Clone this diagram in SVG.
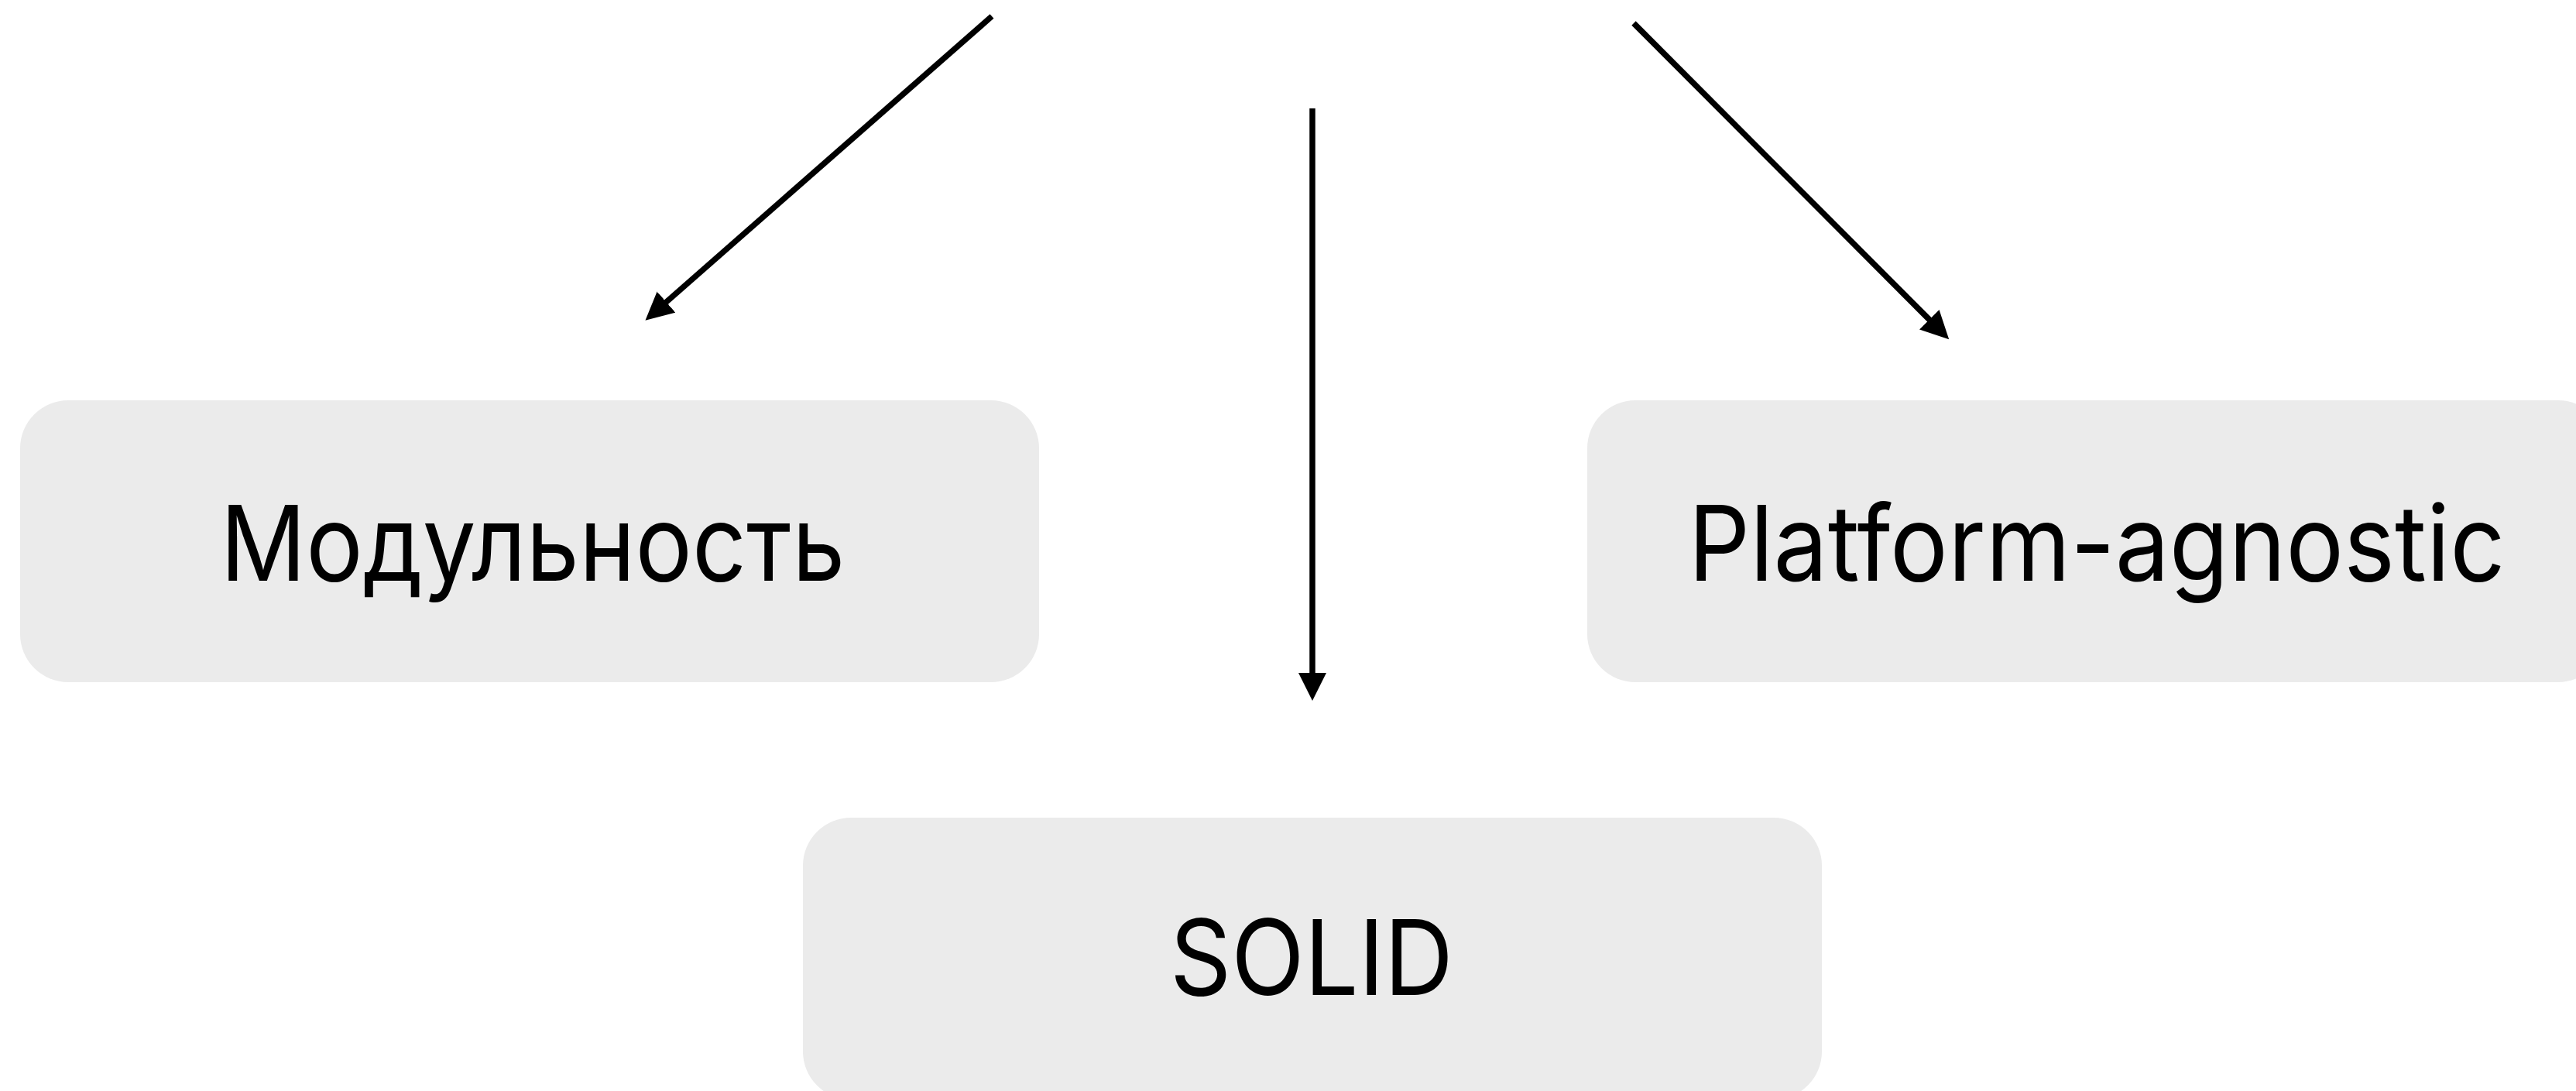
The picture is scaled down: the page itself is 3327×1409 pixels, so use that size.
<svg xmlns="http://www.w3.org/2000/svg" width="3327" height="1409" viewBox="0 0 3327 1409">
<style>
.box{fill:#ebebeb}
.lbl{font-family:Inter,"Liberation Sans",sans-serif;font-size:135px;fill:#000;text-anchor:middle}
.edge{stroke:#000;stroke-width:7.5;fill:none;marker-end:url(#ah)}
</style>
<defs>
<marker id="ah" markerUnits="userSpaceOnUse" markerWidth="40" markerHeight="40" refX="6" refY="18" orient="auto">
<path d="M0,0 L36,18 L0,36 Z" fill="#000"/>
</marker>
</defs>
<rect width="3327" height="1409" fill="#fff"/>
<g id="connectors">
<line class="edge" x1="1281" y1="21" x2="856" y2="394"/>
<line class="edge" x1="1695" y1="140" x2="1695" y2="875"/>
<line class="edge" x1="2110" y1="30" x2="2496" y2="417"/>
</g>
<g id="node-modularity">
<rect class="box" x="26" y="517" width="1316" height="364" rx="62"/>
<text class="lbl" x="688" y="750" textLength="807" lengthAdjust="spacingAndGlyphs">Модульность</text>
</g>
<g id="node-platform">
<rect class="box" x="2050" y="517" width="1316" height="364" rx="62"/>
<text class="lbl" x="2708" y="750" textLength="1055" lengthAdjust="spacingAndGlyphs">Platform-agnostic</text>
</g>
<g id="node-solid">
<rect class="box" x="1037" y="1056" width="1316" height="364" rx="62"/>
<text class="lbl" x="1694" y="1285" textLength="366" lengthAdjust="spacingAndGlyphs">SOLID</text>
</g>
</svg>
